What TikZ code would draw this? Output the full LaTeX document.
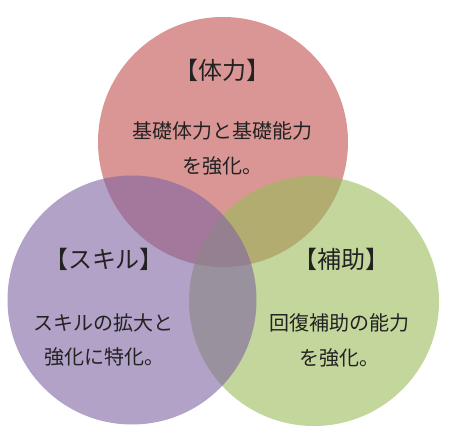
\documentclass[tikz,border=0pt]{standalone}
\usepackage{fontspec}
\newfontfamily\jpfont{Noto Sans CJK JP}
\definecolor{cred}{HTML}{C0504D}
\definecolor{cpurple}{HTML}{8064A2}
\definecolor{cgreen}{HTML}{9BBB59}
\definecolor{ctext}{HTML}{222222}
\tikzset{
  setcircle/.style={fill=#1, fill opacity=0.6, draw=none},
  titletext/.style={text=ctext, font=\jpfont\fontsize{24}{28}\selectfont, inner sep=0pt},
  bodytext/.style={text=ctext, font=\jpfont\fontsize{20}{35}\selectfont, align=center, inner sep=0pt}
}
\begin{document}
\begin{tikzpicture}[x=1pt,y=-1pt]
\useasboundingbox (0,0) rectangle (450,446);
\fill[white] (0,0) rectangle (450,446);
\path[setcircle=cred] (223,142) circle[radius=125];
\path[setcircle=cgreen] (314,301) circle[radius=125];
\path[setcircle=cpurple] (132,300) circle[radius=124.5];
\node[titletext] (t1) at (222,70) {【体力】};
\node[bodytext] (b1) at (222,148) {基礎体力と基礎能力\\を強化。};
\node[titletext] (t2) at (104,259) {【スキル】};
\node[bodytext] (b2) at (104,340) {スキルの拡大と\\強化に特化。};
\node[titletext] (t3) at (341,259) {【補助】};
\node[bodytext] (b3) at (339,340) {回復補助の能力\\を強化。};
\end{tikzpicture}
\end{document}
